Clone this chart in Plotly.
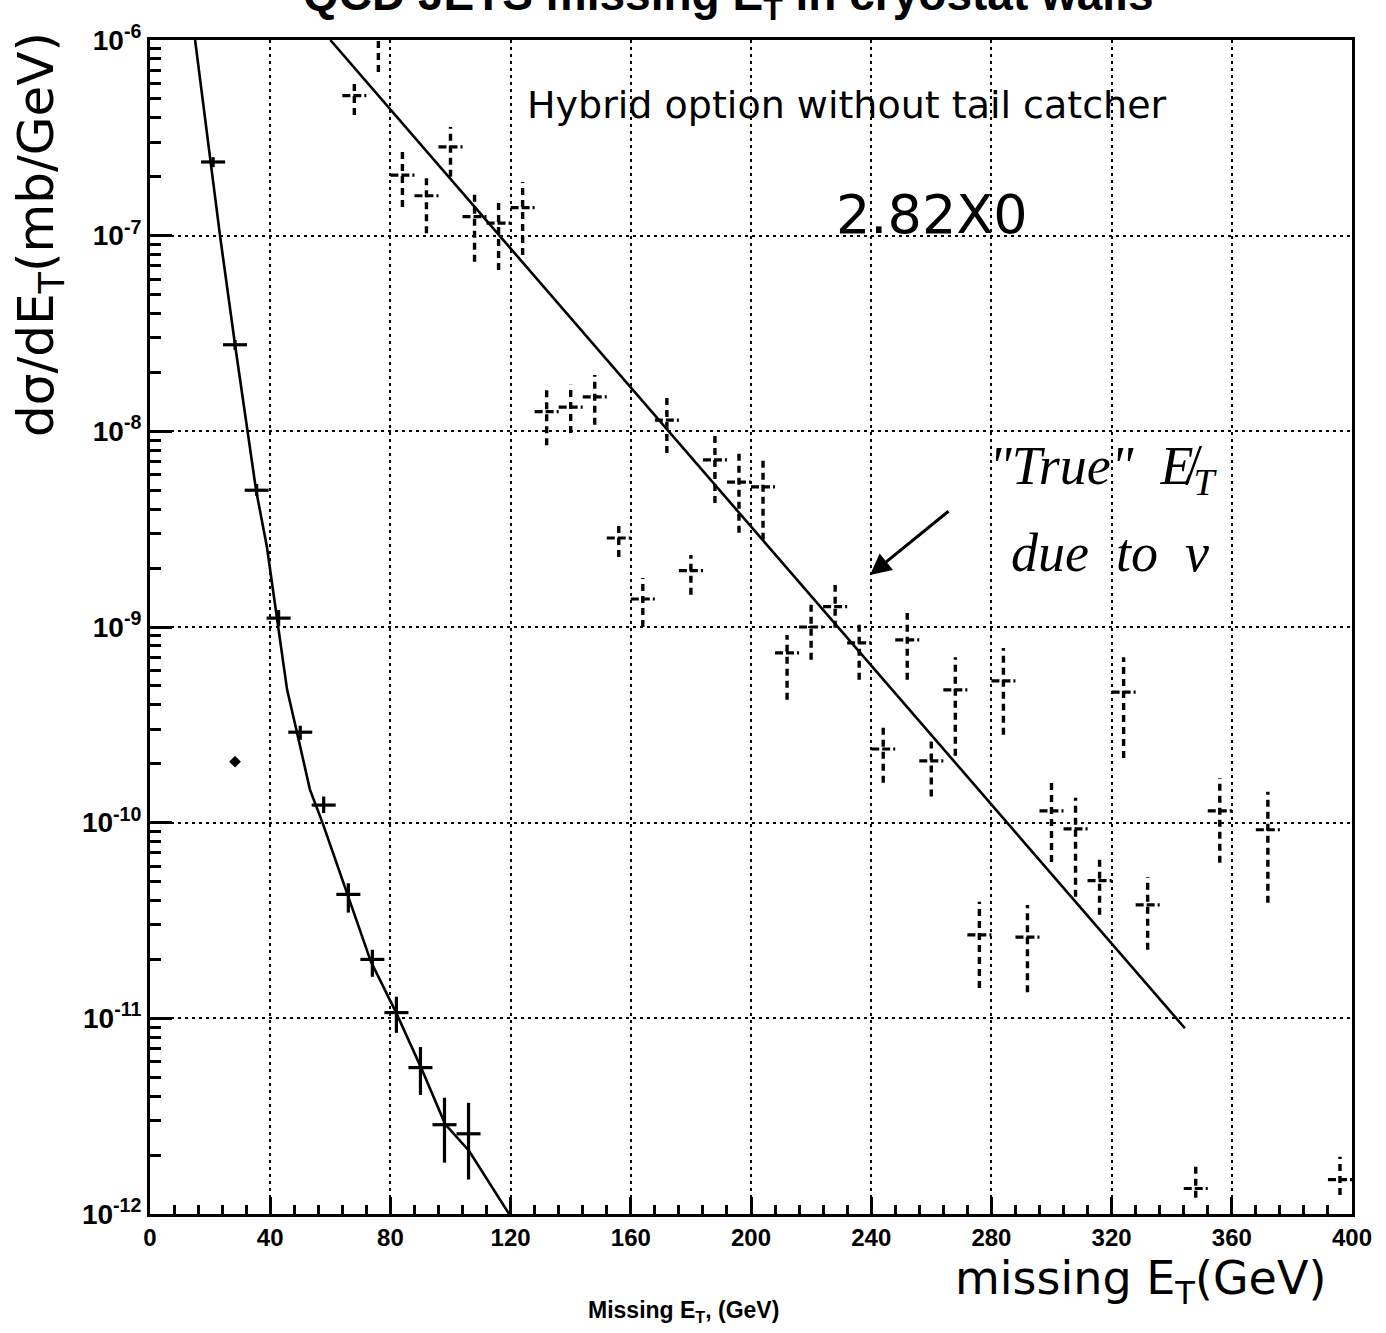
import plotly.graph_objects as go

# ---------------- data ----------------
# Series 1: solid crosses (left, steep distribution)
s1_E = [21, 28.3, 35.5, 42.8, 50, 57.8, 66, 74, 82, 90, 98, 106]
s1_val = [2.38e-7, 2.77e-8, 5.0e-9, 1.11e-9, 2.9e-10, 1.23e-10, 4.3e-11, 2.0e-11,
          1.07e-11, 5.6e-12, 2.86e-12, 2.57e-12]
s1_hi = [2.52e-7, 2.93e-8, 5.38e-9, 1.22e-9, 3.13e-10, 1.36e-10, 4.9e-11, 2.24e-11,
         1.29e-11, 7.14e-12, 3.93e-12, 3.7e-12]
s1_lo = [2.24e-7, 2.61e-8, 4.68e-9, 1.01e-9, 2.65e-10, 1.12e-10, 3.47e-11, 1.63e-11,
         8.43e-12, 4.06e-12, 1.83e-12, 1.5e-12]
s1_halfbin = 4

# Series 2: dashed crosses
s2_E = [68, 76, 84, 92, 100, 108, 116, 124, 132, 140, 148, 156, 164, 172, 180, 188,
        196, 204, 212, 220, 228, 236, 244, 252, 260, 268, 276, 284, 292, 300, 308,
        316, 324, 332, 348, 356, 372, 396]
s2_val = [5.2e-7, 1.15e-6, 2.04e-7, 1.6e-7, 2.84e-7, 1.25e-7, 1.16e-7, 1.39e-7,
          1.26e-8, 1.33e-8, 1.5e-8, 2.85e-9, 1.39e-9, 1.14e-8, 1.94e-9, 7.15e-9,
          5.5e-9, 5.2e-9, 7.38e-10, 1.0e-9, 1.27e-9, 8.3e-10, 2.38e-10, 8.6e-10,
          2.07e-10, 4.77e-10, 2.67e-11, 5.3e-10, 2.6e-11, 1.15e-10, 9.3e-11,
          5.05e-11, 4.65e-10, 3.8e-11, 1.35e-12, 1.15e-10, 9.2e-11, 1.5e-12]
s2_hi = [6.25e-7, 1.6e-6, 2.68e-7, 1.97e-7, 3.59e-7, 1.71e-7, 1.56e-7, 1.88e-7,
         1.63e-8, 1.73e-8, 1.94e-8, 3.4e-9, 1.78e-9, 1.48e-8, 2.33e-9, 9.8e-9,
         8.0e-9, 7.4e-9, 9.1e-10, 1.3e-9, 1.64e-9, 1.06e-9, 3.16e-10, 1.18e-9,
         2.71e-10, 7.0e-10, 3.94e-11, 7.8e-10, 3.8e-11, 1.69e-10, 1.34e-10,
         6.46e-11, 7.0e-10, 5.28e-11, 1.78e-12, 1.69e-10, 1.44e-10, 1.96e-12]
s2_lo = [4.14e-7, 6.86e-7, 1.40e-7, 1.03e-7, 2.0e-7, 7.35e-8, 6.68e-8, 7.96e-8,
         8.5e-9, 9.8e-9, 1.08e-8, 2.28e-9, 1.0e-9, 7.76e-9, 1.46e-9, 4.3e-9,
         3.03e-9, 2.79e-9, 4.25e-10, 6.8e-10, 9.9e-10, 5.37e-10, 1.6e-10, 5.37e-10,
         1.36e-10, 2.2e-10, 1.43e-11, 2.81e-10, 1.36e-11, 6.3e-11, 4.18e-11,
         3.38e-11, 2.14e-10, 2.24e-11, 1.21e-12, 6.24e-11, 3.9e-11, 1.25e-12]
s2_halfbin = 4

# Stray isolated point
stray_E = [28.3]
stray_val = [2.05e-10]

# Fitted curve (left)
c1_E = [15.0, 20.0, 23.3, 28.3, 32.3, 35.3, 38.9, 42.6, 45.6, 48.9, 53.2, 57.6,
        65.9, 73.5, 81.9, 90.2, 98.2, 106.2, 119.5]
c1_val = [1e-6, 2.44e-7, 1e-7, 2.77e-8, 1.02e-8, 5.0e-9, 2.57e-9, 1e-9, 4.8e-10,
          2.9e-10, 1.48e-10, 9.8e-11, 4.27e-11, 1.95e-11, 1.07e-11, 5.6e-12,
          2.88e-12, 2.1e-12, 1e-12]

# Straight exponential line (right)
c2_E = [60, 344.4]
c2_val = [1e-6, 8.9e-12]

# Axis ticks
x_ticks = [0, 40, 80, 120, 160, 200, 240, 280, 320, 360, 400]
y_ticks = [1e-12, 1e-11, 1e-10, 1e-9, 1e-8, 1e-7, 1e-6]
y_ticklabels = ["<b>10<sup>-12</sup></b>", "<b>10<sup>-11</sup></b>", "<b>10<sup>-10</sup></b>",
                "<b>10<sup>-9</sup></b>", "<b>10<sup>-8</sup></b>", "<b>10<sup>-7</sup></b>",
                "<b>10<sup>-6</sup></b>"]

# ---------------- figure ----------------
fig = go.Figure()

# curves
fig.add_trace(go.Scatter(x=c1_E, y=c1_val, mode="lines",
                         line=dict(color="black", width=2.6), hoverinfo="skip"))
fig.add_trace(go.Scatter(x=c2_E, y=c2_val, mode="lines",
                         line=dict(color="black", width=2.6), hoverinfo="skip"))

# series 1: solid crosses via error bars
fig.add_trace(go.Scatter(
    x=s1_E, y=s1_val, mode="markers",
    marker=dict(color="black", size=3),
    error_x=dict(type="constant", value=s1_halfbin, color="black", thickness=3.2, width=0),
    error_y=dict(type="data", symmetric=False,
                 array=[h - v for h, v in zip(s1_hi, s1_val)],
                 arrayminus=[v - l for v, l in zip(s1_val, s1_lo)],
                 color="black", thickness=3.2, width=0),
))

# series 2: dashed crosses built as dashed line segments
hx, hy, vx, vy = [], [], [], []
for e, v, lo, hi in zip(s2_E, s2_val, s2_lo, s2_hi):
    hx += [e - s2_halfbin, e + s2_halfbin, None]
    hy += [v, v, None]
    vx += [e, e, None]
    vy += [lo, hi, None]
fig.add_trace(go.Scatter(x=hx, y=hy, mode="lines",
                         line=dict(color="black", width=3.2, dash="8px,3px"),
                         hoverinfo="skip"))
fig.add_trace(go.Scatter(x=vx, y=vy, mode="lines",
                         line=dict(color="black", width=3.4, dash="7px,5px"),
                         hoverinfo="skip"))

# stray point
fig.add_trace(go.Scatter(x=stray_E, y=stray_val, mode="markers",
                         marker=dict(symbol="diamond", color="black", size=9)))

W, H = 1386, 1333
L, R, T, B = 150, 34, 40, 119
pw, ph = W - L - R, H - T - B


def px(xp):
    return (xp - L) / pw


def py(yp):
    return 1 - (yp - T) / ph


fig.update_layout(
    width=W, height=H,
    margin=dict(l=L, r=R, t=T, b=B),
    paper_bgcolor="white", plot_bgcolor="white",
    showlegend=False,
    font=dict(family="Liberation Sans", color="black"),
)

fig.update_xaxes(
    range=[0, 400], tickvals=x_ticks, ticktext=[f"<b>{v}</b>" for v in x_ticks],
    tickfont=dict(size=24, family="Liberation Sans", color="black"),
    showline=True, mirror=True, linecolor="black", linewidth=3,
    ticks="inside", ticklen=17, tickwidth=2.5, tickcolor="black",
    showgrid=True, gridcolor="black", gridwidth=2, griddash="3px,4px",
    minor=dict(dtick=8, tick0=0, ticks="inside", ticklen=9, tickwidth=2.5,
               tickcolor="black", showgrid=False),
    zeroline=False,
)
fig.update_yaxes(
    type="log", range=[-12, -6], tickvals=y_ticks, ticktext=y_ticklabels,
    tickfont=dict(size=28, family="Liberation Sans", color="black"),
    showline=True, mirror=True, linecolor="black", linewidth=3,
    ticks="inside", ticklen=22, tickwidth=3, tickcolor="black",
    showgrid=True, gridcolor="black", gridwidth=2, griddash="3px,4px",
    minor=dict(dtick="D1", ticks="inside", ticklen=11, tickwidth=3,
               tickcolor="black", showgrid=False),
    zeroline=False,
)

ann = []
# clipped title at the very top
ann.append(dict(text="<b>QCD JETS missing E<sub>T</sub> in cryostat walls</b>",
                xref="paper", yref="paper", x=px(728), y=py(29), yanchor="bottom",
                xanchor="center", showarrow=False,
                font=dict(size=46, family="Liberation Sans", color="black")))
# y axis label
ann.append(dict(text="dσ/dE<sub>T</sub>(mb/GeV)", textangle=-90,
                xref="paper", yref="paper", x=px(40), y=py(235),
                xanchor="center", yanchor="middle", showarrow=False,
                font=dict(size=50, family="DejaVu Sans", color="black")))
# in-plot texts
ann.append(dict(text="Hybrid option without tail catcher",
                xref="paper", yref="paper", x=px(847), y=py(105),
                xanchor="center", yanchor="middle", showarrow=False,
                font=dict(size=38, family="DejaVu Sans", color="black")))
ann.append(dict(text="2.82X0",
                xref="paper", yref="paper", x=px(932), y=py(215),
                xanchor="center", yanchor="middle", showarrow=False,
                font=dict(size=54, family="DejaVu Sans", color="black")))
# handwritten note
ann.append(dict(text="<i>\"True\"  E\u0338<sub>T</sub></i>",
                xref="paper", yref="paper", x=px(1103), y=py(470),
                xanchor="center", yanchor="middle", showarrow=False,
                font=dict(size=54, family="Liberation Serif", color="black")))
ann.append(dict(text="<i>due  to  ν</i>",
                xref="paper", yref="paper", x=px(1110), y=py(553),
                xanchor="center", yanchor="middle", showarrow=False,
                font=dict(size=54, family="Liberation Serif", color="black")))
ann.append(dict(text="", xref="paper", yref="paper", x=px(870), y=py(575),
                ax=80, ay=-65, showarrow=True, arrowhead=2, arrowsize=1.4,
                arrowwidth=3, arrowcolor="black"))
# bottom labels
ann.append(dict(text="missing E<sub>T</sub>(GeV)",
                xref="paper", yref="paper", x=px(1140), y=py(1281),
                xanchor="center", yanchor="middle", showarrow=False,
                font=dict(size=46, family="DejaVu Sans", color="black")))
ann.append(dict(text="<b>Missing E<sub>T</sub>, (GeV)</b>",
                xref="paper", yref="paper", x=px(683), y=py(1311),
                xanchor="center", yanchor="middle", showarrow=False,
                font=dict(size=23, family="Liberation Sans", color="black")))
fig.update_layout(annotations=ann)

fig.write_html("out.html")
